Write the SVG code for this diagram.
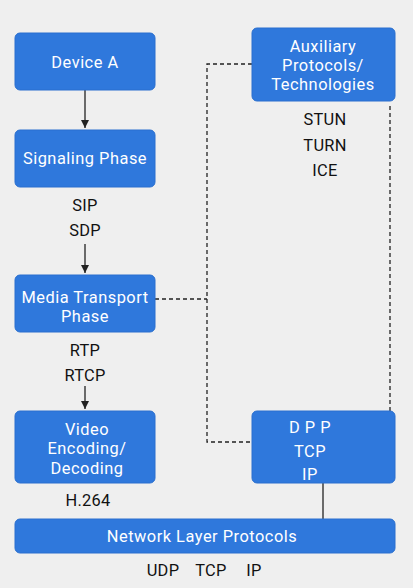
<svg xmlns="http://www.w3.org/2000/svg" width="413" height="588" viewBox="0 0 413 588">
<defs>
<style>
.box{fill:#2f78dc;stroke:#2a6fcf;stroke-width:1}
.bt{font-family:Roboto,"Noto Sans","Liberation Sans",sans-serif;font-size:16.4px;letter-spacing:0.5px;fill:#ffffff;text-anchor:middle}
.lt{font-family:Roboto,"Noto Sans","Liberation Sans",sans-serif;font-size:16.4px;letter-spacing:0.3px;fill:#111111;text-anchor:middle}
.dash{fill:none;stroke:#222;stroke-width:1.3;stroke-dasharray:4,3}
.solid{fill:none;stroke:#222;stroke-width:1.3}
</style>
<marker id="ah" viewBox="0 0 10 10" refX="10" refY="5" markerWidth="8" markerHeight="8" markerUnits="userSpaceOnUse" orient="auto">
<path d="M0,0 L10,5 L0,10 z" fill="#222"/>
</marker>
</defs>
<rect width="413" height="588" fill="#efefef"/>
<g id="connectors">
<line class="solid" x1="85" y1="90" x2="85" y2="128" marker-end="url(#ah)"/>
<line class="solid" x1="85" y1="244" x2="85" y2="273" marker-end="url(#ah)"/>
<line class="solid" x1="85" y1="386" x2="85" y2="409" marker-end="url(#ah)"/>
<polyline class="dash" points="252,64 207,64 207,442 252,442"/>
<line class="dash" x1="155" y1="299" x2="207" y2="299"/>
<line class="dash" x1="390" y1="106" x2="390" y2="411"/>
<line class="solid" x1="323" y1="483" x2="323" y2="519"/>
</g>
<g id="device-a">
<rect class="box" x="15" y="33" width="140" height="57" rx="5"/>
<text class="bt" x="85" y="68">Device A</text>
</g>
<g id="signaling">
<rect class="box" x="15" y="130" width="140" height="57" rx="5"/>
<text class="bt" x="85" y="164">Signaling Phase</text>
<text class="lt" x="85" y="211">SIP</text>
<text class="lt" x="85" y="236">SDP</text>
</g>
<g id="media">
<rect class="box" x="15" y="275" width="140" height="57" rx="5"/>
<text class="bt" x="85" y="303">Media Transport</text>
<text class="bt" x="85" y="322">Phase</text>
<text class="lt" x="85" y="356">RTP</text>
<text class="lt" x="85" y="381">RTCP</text>
</g>
<g id="video">
<rect class="box" x="15" y="411" width="140" height="72" rx="5"/>
<text class="bt" x="87" y="435">Video</text>
<text class="bt" x="87" y="454">Encoding/</text>
<text class="bt" x="87" y="474">Decoding</text>
<text class="lt" x="88" y="506">H.264</text>
</g>
<g id="auxiliary">
<rect class="box" x="252" y="28" width="143" height="73" rx="5"/>
<text class="bt" x="323" y="52">Auxiliary</text>
<text class="bt" x="323" y="71">Protocols/</text>
<text class="bt" x="323" y="90">Technologies</text>
<text class="lt" x="325" y="125">STUN</text>
<text class="lt" x="325" y="151">TURN</text>
<text class="lt" x="325" y="176">ICE</text>
</g>
<g id="dpp">
<rect class="box" x="252" y="411" width="143" height="72" rx="5"/>
<text class="bt" x="310" y="433">D P P</text>
<text class="bt" x="310" y="457">TCP</text>
<text class="bt" x="310" y="480">IP</text>
</g>
<g id="network">
<rect class="box" x="15" y="519" width="380" height="34" rx="5"/>
<text class="bt" x="202" y="542">Network Layer Protocols</text>
<text class="lt" x="163" y="576">UDP</text>
<text class="lt" x="211" y="576">TCP</text>
<text class="lt" x="254" y="576">IP</text>
</g>
</svg>
